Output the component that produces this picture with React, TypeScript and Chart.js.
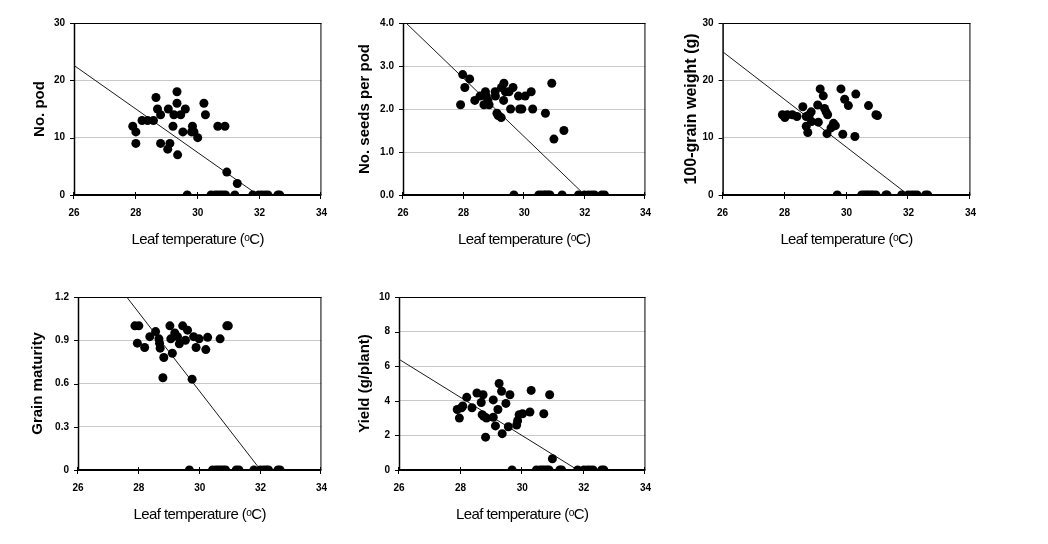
import React, { useEffect, useRef } from "react";
import { Chart, registerables } from "chart.js";

Chart.register(...registerables);

// ---------- data ----------
const xTickValues = [26, 28, 30, 32, 34];
const xAxisTitle = "Leaf temperature (ᵒC)";

// No. pod
const podTemp = [27.9, 28.0, 28.0, 28.2, 28.38, 28.57, 28.65, 28.7, 28.8, 28.8, 29.03, 29.1, 29.05, 29.2, 29.23, 29.33, 29.33, 29.35, 29.45, 29.52, 29.6, 29.8, 29.83, 29.88, 30.0, 30.2, 30.25, 30.65, 30.88, 30.94, 31.28,
  29.66, 30.43, 30.56, 30.64, 30.73, 30.81, 30.9, 31.2, 31.78, 31.97, 32.07, 32.18, 32.27, 32.59, 32.65];
const podValue = [12, 9, 11, 13, 13, 13, 17, 15, 14, 9, 8, 9, 15, 12, 14, 18, 16, 7, 14, 11, 15, 11, 12, 11, 10, 16, 14, 12, 12, 4, 2,
  0, 0, 0, 0, 0, 0, 0, 0, 0, 0, 0, 0, 0, 0, 0];
const podFitTemp = [26, 31.95];
const podFitValue = [22.6, 0];
const podTicks = [0, 10, 20, 30];

// No. seeds per pod
const seedTemp = [27.9, 27.97, 28.04, 28.2, 28.37, 28.54, 28.67, 28.72, 28.75, 28.8, 28.84, 29.04, 29.05, 29.1, 29.14, 29.24, 29.25, 29.32, 29.33, 29.38, 29.5, 29.55, 29.63, 29.81, 29.85, 29.92, 30.03, 30.23, 30.28, 30.7, 30.91, 30.98, 31.31,
  29.66, 30.48, 30.57, 30.66, 30.72, 30.79, 30.85, 31.25, 31.79, 31.99, 32.12, 32.23, 32.32, 32.56, 32.65];
const seedValue = [2.1, 2.8, 2.5, 2.7, 2.2, 2.3, 2.1, 2.4, 2.3, 2.2, 2.1, 2.4, 2.3, 1.9, 1.85, 1.8, 2.5, 2.2, 2.6, 2.4, 2.4, 2.0, 2.5, 2.3, 2.0, 2.0, 2.3, 2.4, 2.0, 1.9, 2.6, 1.3, 1.5,
  0, 0, 0, 0, 0, 0, 0, 0, 0, 0, 0, 0, 0, 0, 0];
const seedFitTemp = [26.1, 32.0];
const seedFitValue = [4.0, 0];
const seedTicks = [0, 1, 2, 3, 4];

// 100-grain weight
const weightTemp = [27.93, 28.01, 28.09, 28.25, 28.4, 28.59, 28.7, 28.7, 28.75, 28.8, 28.86, 28.87, 29.07, 29.09, 29.15, 29.25, 29.29, 29.34, 29.39, 29.37, 29.5, 29.58, 29.64, 29.82, 29.88, 29.94, 30.06, 30.27, 30.3, 30.71, 30.95, 31.0,
  29.7, 30.49, 30.57, 30.65, 30.71, 30.79, 30.86, 30.95, 31.27, 31.31, 31.78, 31.99, 32.1, 32.19, 32.28, 32.55, 32.62];
const weightValue = [14, 13.5, 14, 14, 13.7, 15.4, 13.7, 12.0, 10.9, 14, 14.5, 12.8, 15.7, 12.7, 18.5, 17.3, 15.1, 14.5, 14, 10.7, 11.7, 12.5, 12.1, 18.5, 10.6, 16.7, 15.6, 10.2, 17.6, 15.6, 14, 13.85,
  0, 0, 0, 0, 0, 0, 0, 0, 0, 0, 0, 0, 0, 0, 0, 0, 0];
const weightFitTemp = [26, 32.0];
const weightFitValue = [25.0, 0];
const weightTicks = [0, 10, 20, 30];

// Grain maturity
const maturityTemp = [27.87, 28.0, 27.95, 28.19, 28.36, 28.55, 28.66, 28.68, 28.7, 28.79, 28.82, 29.02, 29.05, 29.1, 29.18, 29.27, 29.33, 29.44, 29.53, 29.6, 29.75, 29.8, 29.88, 29.98, 30.2, 30.26, 30.67, 30.89, 30.94,
  29.66, 30.42, 30.53, 30.61, 30.69, 30.77, 30.85, 31.2, 31.29, 31.78, 31.99, 32.1, 32.19, 32.26, 32.57, 32.64];
const maturityValue = [1.0, 1.0, 0.88, 0.85, 0.925, 0.96, 0.91, 0.88, 0.845, 0.64, 0.78, 1.0, 0.91, 0.81, 0.95, 0.925, 0.875, 1.0, 0.9, 0.97, 0.63, 0.925, 0.85, 0.91, 0.835, 0.92, 0.91, 1.0, 1.0,
  0, 0, 0, 0, 0, 0, 0, 0, 0, 0, 0, 0, 0, 0, 0, 0];
const maturityFitTemp = [27.6, 32.0];
const maturityFitValue = [1.2, 0];
const maturityTicks = [0, 0.3, 0.6, 0.9, 1.2];

// Yield
const yieldTemp = [27.89, 27.96, 28.03, 28.07, 28.2, 28.37, 28.53, 28.67, 28.73, 28.7, 28.75, 28.81, 28.84, 29.06, 29.06, 29.13, 29.21, 29.25, 29.33, 29.35, 29.47, 29.55, 29.6, 29.82, 29.85, 29.9, 30.01, 30.25, 30.29, 30.7, 30.89, 30.98,
  29.67, 30.46, 30.58, 30.66, 30.73, 30.81, 30.87, 31.22, 31.28, 31.8, 32.0, 32.11, 32.2, 32.3, 32.58, 32.65];
const yieldValue = [3.5, 3.0, 3.6, 3.7, 4.2, 3.6, 4.45, 3.9, 4.35, 3.2, 3.1, 1.9, 3.0, 4.05, 3.05, 2.55, 3.5, 5.0, 4.55, 2.1, 3.85, 2.5, 4.35, 2.6, 2.85, 3.2, 3.25, 3.35, 4.6, 3.25, 4.35, 0.65,
  0, 0, 0, 0, 0, 0, 0, 0, 0, 0, 0, 0, 0, 0, 0, 0];
const yieldFitTemp = [26, 31.8];
const yieldFitValue = [6.4, 0];
const yieldTicks = [0, 2, 4, 6, 8, 10];

// ---------- panels (layout only) ----------
type Panel = {
  xs: number[]; ys: number[]; fx: number[]; fy: number[]; ticks: number[];
  title: string; fmt: (v: number) => string;
  l: number; r: number; t: number; b: number; titleOff: number; titleSize: number;
};

const panels: Panel[] = [
  { xs: podTemp, ys: podValue, fx: podFitTemp, fy: podFitValue, ticks: podTicks, title: "No. pod", fmt: (v) => String(v), l: 74, r: 323, t: 20, b: 195, titleOff: 34, titleSize: 15 },
  { xs: seedTemp, ys: seedValue, fx: seedFitTemp, fy: seedFitValue, ticks: seedTicks, title: "No. seeds per pod", fmt: (v) => v.toFixed(1), l: 403, r: 647, t: 20, b: 195, titleOff: 38, titleSize: 15 },
  { xs: weightTemp, ys: weightValue, fx: weightFitTemp, fy: weightFitValue, ticks: weightTicks, title: "100-grain weight (g)", fmt: (v) => String(v), l: 723, r: 972, t: 20, b: 195, titleOff: 31, titleSize: 16 },
  { xs: maturityTemp, ys: maturityValue, fx: maturityFitTemp, fy: maturityFitValue, ticks: maturityTicks, title: "Grain maturity", fmt: (v) => (v === 0 ? "0" : v.toFixed(1)), l: 78, r: 323, t: 294, b: 470, titleOff: 40, titleSize: 15 },
  { xs: yieldTemp, ys: yieldValue, fx: yieldFitTemp, fy: yieldFitValue, ticks: yieldTicks, title: "Yield (g/plant)", fmt: (v) => String(v), l: 399, r: 647, t: 294, b: 470, titleOff: 34, titleSize: 15 },
];

const PAD_T = 12;
const PAD_R = 16;
const X_H = 62;
const FONT = '"Liberation Sans", Arial, sans-serif';

function ScatterPanel({ p }: { p: Panel }) {
  const ref = useRef<HTMLCanvasElement>(null);
  const yW = p.titleOff + p.titleSize * 0.6;
  const w = Math.round(yW + (p.r - p.l) + PAD_R);
  const h = Math.round(PAD_T + (p.b - p.t) + X_H);

  useEffect(() => {
    const ymax = p.ticks[p.ticks.length - 1];
    const points = p.xs.map((x, i) => ({ x, y: p.ys[i] }));
    const fit = p.fx.map((x, i) => ({ x, y: p.fy[i] }));

    const framePlugin = {
      id: "frame",
      beforeDatasetsDraw(chart: any) {
        const { ctx, chartArea, scales } = chart;
        const { left, right, top, bottom } = chartArea;
        ctx.save();
        ctx.strokeStyle = "#000";
        ctx.lineWidth = 1;
        ctx.beginPath();
        ctx.moveTo(left, top + 0.5);
        ctx.lineTo(right, top + 0.5);
        ctx.moveTo(right - 0.5, top);
        ctx.lineTo(right - 0.5, bottom);
        ctx.stroke();
        ctx.lineWidth = 1.5;
        ctx.beginPath();
        ctx.moveTo(left + 0.5, top);
        ctx.lineTo(left + 0.5, bottom);
        ctx.stroke();
        ctx.lineWidth = 1;
        ctx.beginPath();
        for (const v of p.ticks) {
          const py = Math.round(scales.y.getPixelForValue(v)) + 0.5;
          ctx.moveTo(left - 4, py);
          ctx.lineTo(left, py);
        }
        for (const v of xTickValues) {
          const px = Math.round(scales.x.getPixelForValue(v)) - 0.5;
          ctx.moveTo(px, bottom - 3);
          ctx.lineTo(px, bottom + 4);
        }
        ctx.stroke();
        ctx.lineWidth = 2;
        ctx.beginPath();
        ctx.moveTo(left, bottom);
        ctx.lineTo(right, bottom);
        ctx.stroke();
        ctx.restore();
      },
      afterDraw(chart: any) {
        const { ctx, chartArea } = chart;
        ctx.save();
        ctx.font = `15px ${FONT}`;
        (ctx as any).letterSpacing = "-0.6px";
        ctx.fillStyle = "#000";
        ctx.textAlign = "center";
        ctx.textBaseline = "middle";
        ctx.fillText(xAxisTitle, (chartArea.left + chartArea.right) / 2, chartArea.bottom + 45);
        ctx.restore();
      },
    };

    const chart = new Chart(ref.current as HTMLCanvasElement, {
      type: "scatter",
      data: {
        datasets: [
          {
            data: fit,
            showLine: true,
            borderColor: "#1a1a1a",
            borderWidth: 1,
            pointRadius: 0,
            order: 2,
          } as any,
          {
            data: points,
            backgroundColor: "#000",
            borderColor: "#000",
            borderWidth: 0,
            pointRadius: 4.5,
            order: 1,
          },
        ],
      },
      options: {
        animation: false,
        responsive: false,
        events: [],
        layout: { padding: { top: PAD_T, right: PAD_R, left: 0, bottom: 0 } },
        plugins: { legend: { display: false }, tooltip: { enabled: false } },
        scales: {
          x: {
            type: "linear",
            min: 26,
            max: 34,
            afterBuildTicks: (s: any) => { s.ticks = xTickValues.map((v) => ({ value: v })); },
            afterFit: (s: any) => { s.height = X_H; },
            ticks: { font: { family: FONT, size: 10, weight: "bold" }, color: "#000", padding: 12 },
            grid: { display: true, drawOnChartArea: false, drawTicks: false, color: "rgba(0,0,0,0)" },
            border: { display: false },
          },
          y: {
            type: "linear",
            min: 0,
            max: ymax,
            afterBuildTicks: (s: any) => { s.ticks = p.ticks.map((v) => ({ value: v })); },
            afterFit: (s: any) => { s.width = yW; },
            ticks: {
              font: { family: FONT, size: 10, weight: "bold" },
              color: "#000",
              padding: 9,
              callback: (v: any) => p.fmt(Number(v)),
            },
            grid: {
              drawTicks: false,
              color: (c: any) => {
                const v = c.tick ? c.tick.value : 0;
                return Math.abs(v) < 1e-9 || Math.abs(v - ymax) < 1e-9 ? "rgba(0,0,0,0)" : "#c8c8c8";
              },
              lineWidth: 1,
            },
            border: { display: false },
            title: {
              display: true,
              text: p.title,
              color: "#000",
              font: { family: FONT, size: p.titleSize, weight: "bold" },
              padding: { top: 0, bottom: 0 },
            },
          },
        },
      },
      plugins: [framePlugin],
    });
    return () => chart.destroy();
  }, []);

  return (
    <canvas
      ref={ref}
      width={w}
      height={h}
      style={{ position: "absolute", left: Math.round(p.l - yW), top: p.t - PAD_T, width: w, height: h }}
    />
  );
}

export default function App() {
  return (
    <div style={{ position: "fixed", left: 0, top: 0, width: 1048, height: 544, background: "#fff", overflow: "hidden" }}>
      {panels.map((p, i) => (
        <ScatterPanel key={i} p={p} />
      ))}
    </div>
  );
}
